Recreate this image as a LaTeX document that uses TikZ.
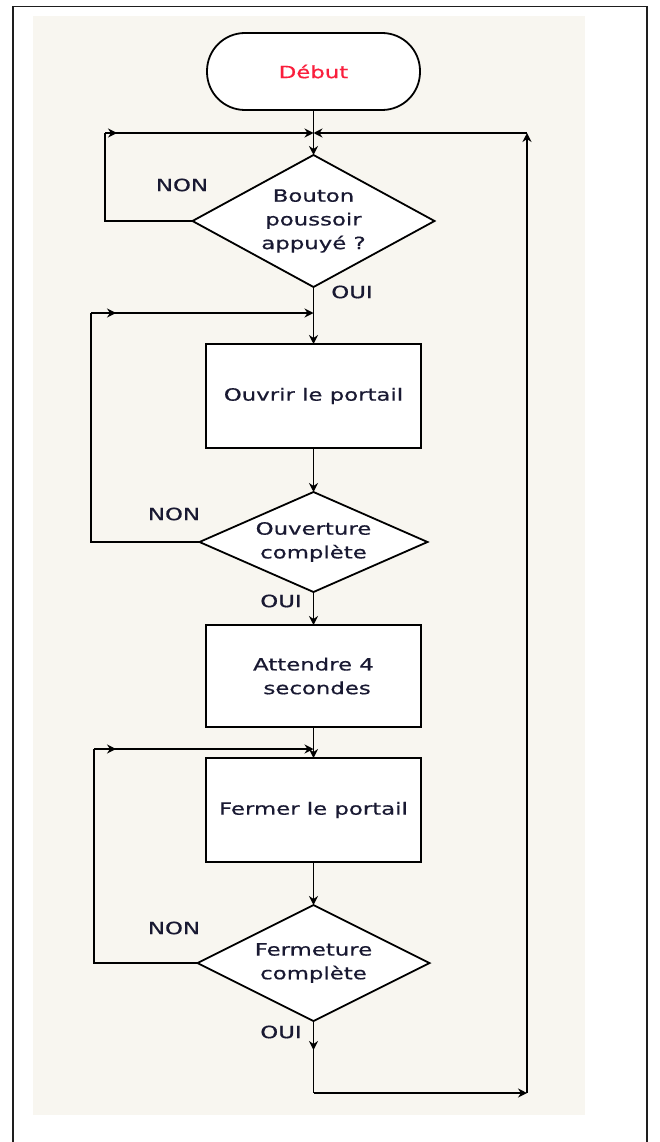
\documentclass[tikz,border=0pt]{standalone}
\usepackage{fontspec}
\setmainfont{DejaVu Sans}[FakeStretch=1.35, FakeBold=0.6]
\usepackage{tikz}
\usetikzlibrary{
  arrows.meta,
  positioning,
  shapes.geometric
}
\definecolor{pagebeige}{RGB}{248,246,240}
\definecolor{framegray}{RGB}{30,30,30}
\definecolor{debutred}{RGB}{250,30,60}
\definecolor{inkblue}{RGB}{25,25,50}
\tikzset{
  flow/.style={draw, line width=1.8pt, fill=white, align=center,
    inner sep=0pt, outer sep=0pt, text=inkblue,
    font=\fontsize{16.9}{23.7}\selectfont},
  termbox/.style={flow, rectangle, rounded corners=38pt,
    minimum width=213pt, minimum height=77pt, text=debutred},
  procbox/.style={flow, rectangle,
    minimum width=215pt, minimum height=104pt},
  decbox/.style={flow, diamond, aspect=2},
  lab/.style={inner sep=0pt, text=inkblue,
    font=\fontsize{16.9}{20}\selectfont},
  line/.style={line width=1.8pt},
  arr/.style={-{Stealth[length=9pt,width=9pt]}, line width=1.8pt},
}

\begin{document}
\begin{tikzpicture}[x=1pt, y=-1pt]
  \useasboundingbox (0,0) rectangle (660,1142);
  % page and frame
  \fill[pagebeige] (33,16) rectangle (585,1115);
  \draw[framegray, line width=1.6pt] (13,1142) -- (13,6.5) -- (647,6.5) -- (647,1142);

  % main chain
  \node[termbox] (debut) at (313.5,71.5) {Début};
  \node[decbox, minimum width=242pt, minimum height=132pt,
        below=45pt of debut] (btn) {Bouton\\poussoir\\appuyé ?};
  \node[procbox, below=57pt of btn] (ouvrir) {Ouvrir le portail};
  \node[decbox, aspect=2.3, minimum width=228pt, minimum height=100pt,
        below=44pt of ouvrir] (ouvok) {Ouverture\\complète};
  \node[procbox, minimum height=102pt, below=33pt of ouvok] (attendre)
    {Attendre 4\\\ secondes};
  \node[procbox, below=31pt of attendre] (fermer) {Fermer le portail};
  \node[decbox, minimum width=232pt, minimum height=116pt,
        below=43pt of fermer] (ferok) {Fermeture\\complète};

  % labels
  \node[lab] (non1) at (182,185) {NON};
  \node[lab] (oui1) at (352,292) {OUI};
  \node[lab] (non2) at (174,514) {NON};
  \node[lab] (oui2) at (281,601) {OUI};
  \node[lab] (non3) at (174,928) {NON};
  \node[lab] (oui3) at (281,1032) {OUI};

  % junctions and corners
  \path (debut.south) ++(0,23) coordinate (j1);
  \path (btn.south) ++(0,26) coordinate (j2);
  \path (attendre.south) ++(0,22) coordinate (j3);
  \path (ferok.south) ++(0,72) coordinate (b1);
  \coordinate (l1) at (105,133);
  \coordinate (l2) at (91,313);
  \coordinate (l3) at (94,749);
  \coordinate (r1) at (527,133);
  \coordinate (r2) at (527,1093);

  % straight arrows
  \draw[arr] (debut) -- (btn);
  \draw[arr] (btn) -- (ouvrir);
  \draw[arr] (ouvrir) -- (ouvok);
  \draw[arr] (ouvok) -- (attendre);
  \draw[arr] (attendre) -- (fermer);
  \draw[arr] (fermer) -- (ferok);

  % NON loops
  \draw[line] (btn.west) -| (l1);
  \draw[arr] (l1) -- ++(12,0);
  \draw[arr] (l1) -- (j1);
  \draw[line] (ouvok.west) -| (l2);
  \draw[arr] (l2) -- ++(25,0);
  \draw[arr] (l2) -- (j2);
  \draw[line] (ferok.west) -| (l3);
  \draw[arr] (l3) -- ++(22,0);
  \draw[arr] (l3) -- (j3);

  % back to the start
  \draw[arr] (ferok.south) -- ++(0,29);
  \draw[line] (ferok.south) -- (b1);
  \draw[arr] (b1) -- (r2);
  \draw[arr] (r2) -- (r1);
  \draw[arr] (r1) -- (j1);
\end{tikzpicture}
\end{document}
